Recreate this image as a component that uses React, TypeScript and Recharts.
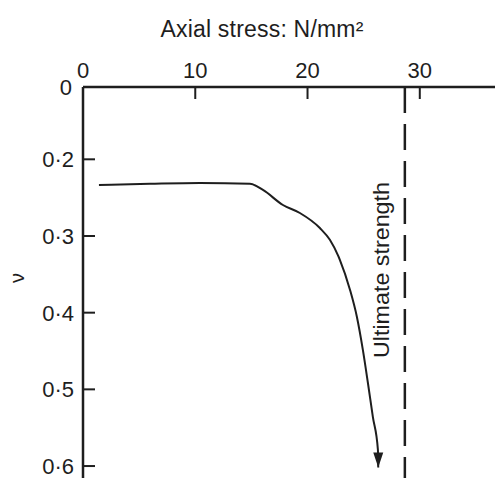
import React from 'react';
import { LineChart, Line, XAxis, YAxis, ReferenceLine } from 'recharts';

// Axial stress (N/mm²) vs Poisson's ratio ν
const STRESS = [1.42, 5.97, 10.42, 14.87, 16.03, 17.81, 19.32, 21.1, 21.99, 22.88, 23.78, 24.4, 24.93, 25.38, 25.82, 26.27, 26.3];
const NU = [0.2335, 0.232, 0.231, 0.232, 0.24, 0.2596, 0.27, 0.2896, 0.305, 0.331, 0.37, 0.4056, 0.4485, 0.4917, 0.536, 0.579, 0.602];
const X_TICKS = [0, 10, 20, 30];
const Y_TICKS = [0.2, 0.3, 0.4, 0.5, 0.6];
const Y_BREAK = 0.1057; // broken axis: top of axis labelled "0"
const ULTIMATE = 28.67;
const TITLE = 'Axial stress: N/mm²';
const Y_LABEL = 'ν';
const REF_LABEL = 'Ultimate strength';

const data = STRESS.map((s, i) => ({ s, nu: NU[i] }));
const FONT = '"Liberation Sans", Arial, sans-serif';
const INK = '#1e1e1e';

const XTick = (props: any) => {
  const { x, y, payload } = props;
  return (
    <g>
      {payload.value !== 0 && <line x1={x} y1={y} x2={x} y2={y + 12} stroke={INK} strokeWidth={2} />}
      <text x={x} y={y - 9} textAnchor="middle" fontFamily={FONT} fontSize={22} fill={INK}>
        {String(payload.value)}
      </text>
    </g>
  );
};

const YTick = (props: any) => {
  const { x, y, payload } = props;
  const isBreak = payload.value === Y_BREAK;
  const label = isBreak ? '0' : payload.value.toFixed(1).replace('.', '·');
  return (
    <g>
      {!isBreak && <line x1={x} y1={y} x2={x + 12} y2={y} stroke={INK} strokeWidth={2} />}
      <text x={isBreak ? x - 11 : x - 9} y={y + 8} textAnchor="end" fontFamily={FONT} fontSize={22} fill={INK}>
        {label}
      </text>
    </g>
  );
};

const ArrowDot = (props: any) => {
  const { cx, cy, index } = props;
  if (index !== data.length - 1) return <g key={index} />;
  return (
    <polygon key={index} points={`${cx - 5},${cy - 15} ${cx + 5},${cy - 15} ${cx},${cy}`} fill={INK} />
  );
};

const RefLabel = (props: any) => {
  const vb = props.viewBox || {};
  const cx = (vb.x ?? 0) - 23;
  const cy = 270;
  return (
    <text x={cx} y={cy} transform={`rotate(-90 ${cx} ${cy})`} textAnchor="middle" dominantBaseline="central" fontFamily={FONT} fontSize={22} textLength={176} lengthAdjust="spacingAndGlyphs" fill={INK}>
      {REF_LABEL}
    </text>
  );
};

export default function App() {
  return (
    <div style={{ position: 'absolute', left: 0, top: 0, width: 496, height: 480, background: '#fff' }}>
      <div style={{ position: 'absolute', left: 0, top: 16, width: 524, textAlign: 'center', fontFamily: FONT, fontSize: 23, color: INK, letterSpacing: 0.2 }}>
        {TITLE}
      </div>
      <div style={{ position: 'absolute', left: 6, top: 265, width: 26, height: 26, fontFamily: FONT, fontSize: 20, color: INK, transform: 'rotate(-90deg)', textAlign: 'center' }}>
        {Y_LABEL}
      </div>
      <LineChart width={496} height={480} data={data} margin={{ top: 0, right: 1, bottom: 2, left: 0 }}>
        <XAxis
          dataKey="s"
          type="number"
          orientation="top"
          domain={[0, 36.7]}
          ticks={X_TICKS}
          height={87}
          tickSize={0}
          tickMargin={0}
          tick={<XTick />}
          axisLine={{ stroke: INK, strokeWidth: 2.5 }}
          tickLine={false}
          allowDataOverflow
        />
        <YAxis
          dataKey="nu"
          type="number"
          reversed
          domain={[Y_BREAK, 0.6156]}
          ticks={[Y_BREAK, ...Y_TICKS]}
          width={83}
          tickSize={0}
          tickMargin={0}
          tick={<YTick />}
          axisLine={{ stroke: INK, strokeWidth: 2.5 }}
          tickLine={false}
          allowDataOverflow
        />
        <ReferenceLine x={ULTIMATE} stroke={INK} strokeWidth={2.5} strokeDasharray="26 11" label={<RefLabel />} />
        <Line
          dataKey="nu"
          type="monotone"
          stroke={INK}
          strokeWidth={2}
          dot={<ArrowDot />}
          isAnimationActive={false}
        />
      </LineChart>
    </div>
  );
}
